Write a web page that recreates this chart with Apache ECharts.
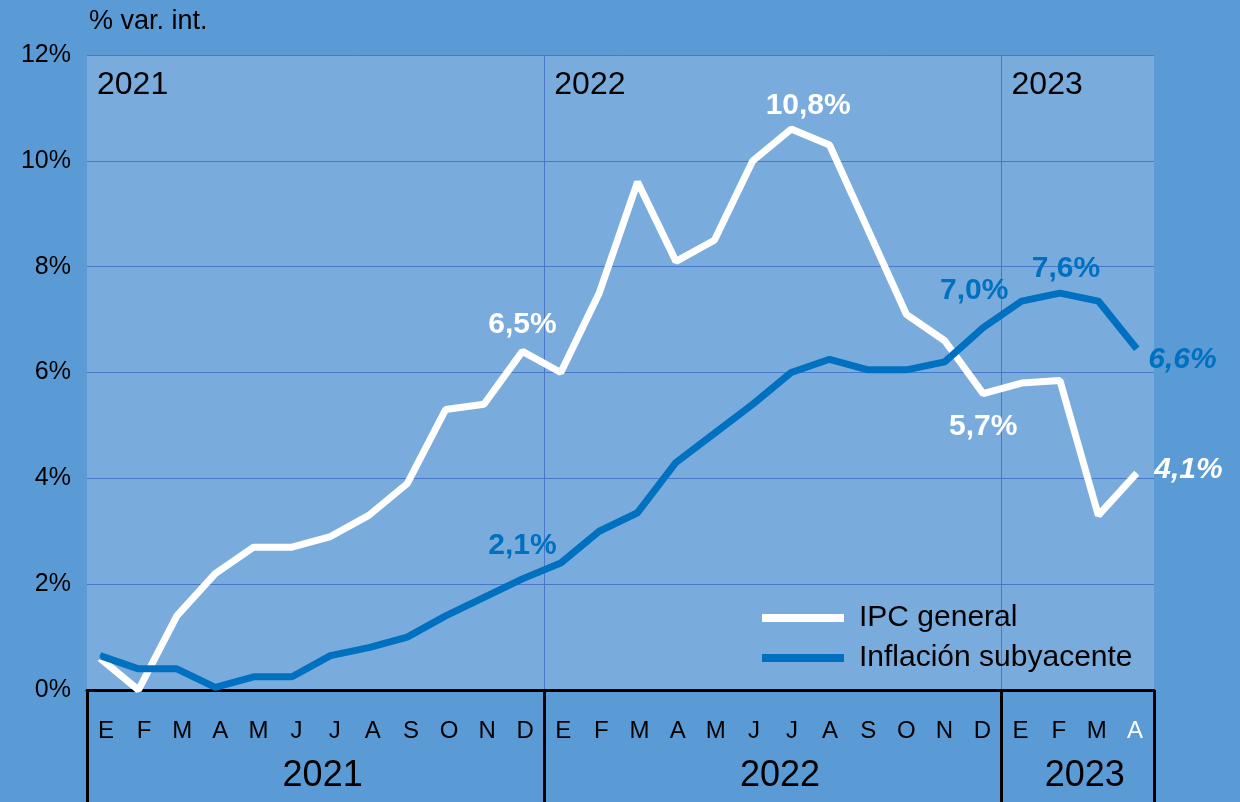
<!DOCTYPE html>
<html>
<head>
<meta charset="utf-8">
<title>IPC general e inflación subyacente</title>
<script src="https://cdn.jsdelivr.net/npm/echarts@6/dist/echarts.min.js"></script>
<style>
  html, body { margin: 0; padding: 0; background: #5b9bd5; }
  #chart { width: 1240px; height: 802px; }
</style>
</head>
<body>
<div id="chart"></div>
<script>
// meses de ene-2021 a abr-2023
const months = [
  'E', 'F', 'M', 'A', 'M', 'J', 'J', 'A', 'S', 'O', 'N', 'D',
  'E', 'F', 'M', 'A', 'M', 'J', 'J', 'A', 'S', 'O', 'N', 'D',
  'E', 'F', 'M', 'A',
]
const years = ['2021', '2022', '2023']
const monthsPerYear = [12, 12, 4]

const ipcGeneral = [
  0.6, 0.0, 1.4, 2.2, 2.7, 2.7, 2.9, 3.3, 3.9, 5.3, 5.4, 6.4,
  6.0, 7.5, 9.6, 8.1, 8.5, 10.0, 10.6, 10.3, 8.7, 7.1, 6.6, 5.6,
  5.8, 5.85, 3.3, 4.1,
]
const inflacionSubyacente = [
  0.65, 0.4, 0.4, 0.05, 0.25, 0.25, 0.65, 0.8, 1.0, 1.4, 1.75, 2.1,
  2.4, 3.0, 3.35, 4.3, 4.85, 5.4, 6.0, 6.25, 6.05, 6.05, 6.2, 6.85,
  7.35, 7.5, 7.35, 6.45,
]

// textos de las etiquetas por índice de mes
const ipcLabels = { 11: '6,5%', 18: '10,8%', 23: '5,7%', 27: '4,1%' }
const coreLabels = { 11: '2,1%', 23: '7,0%', 25: '7,6%', 27: '6,6%' }

const yTicks = [0, 2, 4, 6, 8, 10, 12]

const WHITE = '#ffffff'
const BLUE = '#0070c0'
const GRID_LINE = '#4a78c8'
const FONT = 'Liberation Sans'

const ipcPlace = {
  11: { position: 'top', distance: 11 },
  18: { position: 'top', distance: 8, offset: [17, 0] },
  23: { position: 'bottom', distance: 18 },
  27: { position: 'right', distance: 17, offset: [0, -3], fontStyle: 'italic' },
}
const corePlace = {
  11: { position: 'top', distance: 18 },
  23: { position: 'top', distance: 21, offset: [-9, 0] },
  25: { position: 'top', distance: 9, offset: [6, 0] },
  27: { position: 'right', distance: 11, offset: [0, 11], fontStyle: 'italic' },
}

function buildData(values, labels, place, color) {
  return values.map((v, i) => {
    const item = { value: [i, v] }
    if (labels[i]) {
      item.label = {
        show: true,
        formatter: labels[i],
        color,
        fontFamily: FONT,
        fontSize: 30,
        fontWeight: 'bold',
        ...place[i],
      }
    }
    return item
  })
}

function lineSeries(name, values, labels, place, color) {
  return {
    name,
    type: 'line',
    xAxisIndex: 1,
    data: buildData(values, labels, place, color),
    symbol: 'circle',
    symbolSize: 1,
    showAllSymbol: true,
    lineStyle: { color, width: 7 },
    itemStyle: { color },
    label: { show: false },
    emphasis: { disabled: true },
    animation: false,
  }
}

const chart = echarts.init(document.getElementById('chart'), null, { renderer: 'canvas' })

chart.setOption({
  backgroundColor: '#5b9bd5',
  textStyle: { fontFamily: FONT },
  title: {
    text: '% var. int.',
    left: 89,
    top: 8,
    padding: 0,
    textStyle: { fontFamily: FONT, fontSize: 27, fontWeight: 'normal', color: '#000' },
  },
  legend: {
    orient: 'vertical',
    left: 757,
    top: 598,
    icon: 'rect',
    itemWidth: 82,
    itemHeight: 8,
    itemGap: 10,
    selectedMode: false,
    textStyle: { fontFamily: FONT, fontSize: 30, color: '#000', padding: [0, 0, 0, 10] },
    data: ['IPC general', 'Inflación subyacente'],
  },
  grid: {
    left: 87,
    right: 86,
    top: 55,
    bottom: 112,
    show: true,
    backgroundColor: '#79acdc',
    borderWidth: 0,
  },
  xAxis: [
    {
      type: 'category',
      data: months,
      boundaryGap: true,
      position: 'bottom',
      axisLine: { show: true, lineStyle: { color: '#000', width: 3 } },
      axisTick: {
        show: true,
        interval: (i) => i % 12 === 0,
        length: 115,
        lineStyle: { color: '#000', width: 3 },
      },
      axisLabel: {
        interval: 0,
        margin: 29,
        fontSize: 24,
        fontFamily: FONT,
        color: (value, index) => (index === months.length - 1 ? '#fff' : '#000'),
      },
      splitLine: {
        show: true,
        showMinLine: false,
        showMaxLine: false,
        interval: (i) => i % 12 === 0,
        lineStyle: { color: GRID_LINE, width: 1 },
      },
    },
    {
      type: 'value',
      show: false,
      min: -0.34,
      max: 27.45,
    },
  ],
  yAxis: {
    type: 'value',
    min: yTicks[0],
    max: yTicks[yTicks.length - 1],
    interval: 2,
    axisLine: { show: false },
    axisTick: { show: false },
    axisLabel: { formatter: '{value}%', fontSize: 25, fontFamily: FONT, color: '#000', margin: 16 },
    splitLine: { lineStyle: { color: GRID_LINE, width: 1 } },
  },
  series: [
    lineSeries('IPC general', ipcGeneral, ipcLabels, ipcPlace, WHITE),
    lineSeries('Inflación subyacente', inflacionSubyacente, coreLabels, corePlace, BLUE),
  ],
})

// rótulos de año: arriba dentro del gráfico y abajo bajo los meses
const c0 = chart.convertToPixel({ xAxisIndex: 0 }, 0)
const bw = chart.convertToPixel({ xAxisIndex: 0 }, 1) - c0
const graphics = []
let start = 0
years.forEach((y, k) => {
  const end = start + monthsPerYear[k] - 1
  const x0 = c0 + (start - 0.5) * bw
  const mid = c0 + ((start + end) / 2) * bw
  graphics.push({
    type: 'text',
    x: x0 + 10,
    y: 85,
    style: { text: y, font: '32px "Liberation Sans"', fill: '#000', verticalAlign: 'middle' },
    silent: true,
  })
  graphics.push({
    type: 'text',
    x: mid + 7,
    y: 776,
    style: { text: y, font: '36px "Liberation Sans"', fill: '#000', align: 'center', verticalAlign: 'middle' },
    silent: true,
  })
  start = end + 1
})
chart.setOption({ graphic: graphics })
</script>
</body>
</html>
